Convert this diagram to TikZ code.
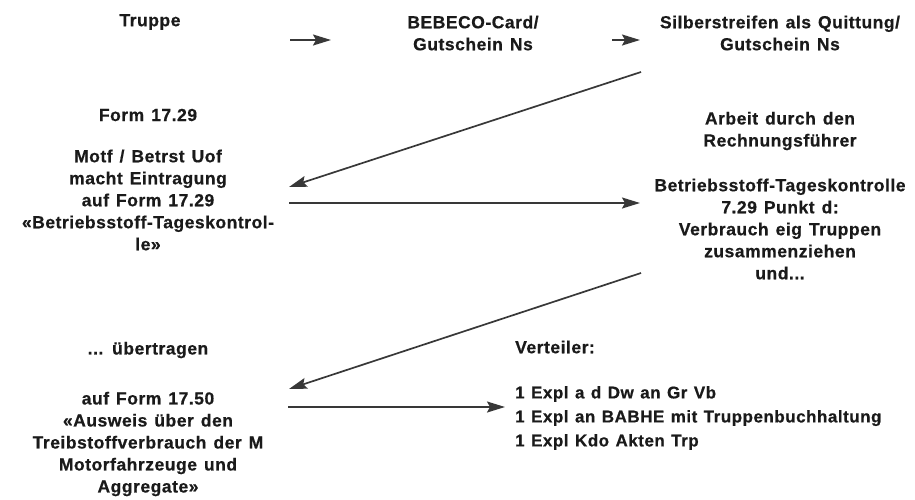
\documentclass[tikz,border=0pt]{standalone}
\usepackage{fontspec}
\setmainfont{Liberation Sans}[LetterSpace=3,BoldFeatures={FakeBold=0.6}]
\usetikzlibrary{arrows.meta}
\definecolor{ink}{HTML}{1A1A1A}
\definecolor{wire}{HTML}{383838}
\newcommand{\lblfont}{\fontsize{17.5}{22}\selectfont\bfseries\spaceskip=0.4em\relax}
\newcommand{\listfont}{\fontsize{17}{24}\selectfont\bfseries\spaceskip=0.38em\relax}
\tikzset{
  lbl/.style={text=ink, font=\lblfont, align=center, inner sep=0pt},
  lbll/.style={lbl, align=left},
  flow/.style={draw=wire, line width=1.7pt, -{Stealth[length=18pt,width=11pt,inset=3pt]}},
}
\begin{document}
\begin{tikzpicture}[x=1pt,y=-1pt]
\useasboundingbox (0,0) rectangle (915,499);
% row 1
\node[lbl] (truppe) at (150,22) {Truppe};
\node[lbl] (bebeco) at (473,33) {BEBECO-Card/\\Gutschein Ns};
\node[lbl] (silber) at (780,33) {Silberstreifen als Quittung/\\Gutschein Ns};
% row 2
\node[lbl] (form1) at (148,115) {Form 17.29};
\node[lbl] (motf) at (148,200) {Motf / Betrst Uof\\macht Eintragung\\auf Form 17.29\\«Betriebsstoff-Tageskontrol-\\le»};
\node[lbl] (arbeit) at (780,131) {Arbeit durch den\\Rechnungsführer};
\node[lbl] (betr) at (780,229) {Betriebsstoff-Tageskontrolle\\7.29 Punkt d:\\Verbrauch eig Truppen\\zusammenziehen\\und...};
% row 3
\node[lbl] (uebertr) at (148,350) {... übertragen};
\node[lbl] (aufform) at (148,444) {auf Form 17.50\\«Ausweis über den\\Treibstoffverbrauch der M\\Motorfahrzeuge und\\Aggregate»};
\node[lbll, anchor=west] (vert) at (515,347) {Verteiler:};
\node[lbll, anchor=west, font=\listfont] (liste) at (515,418) {1 Expl a d Dw an Gr Vb\\1 Expl an BABHE mit Truppenbuchhaltung\\1 Expl Kdo Akten Trp};
% connector ends
\coordinate (a1s) at (290,40);  \coordinate (a1e) at (331,40);
\coordinate (a2s) at (612,40);  \coordinate (a2e) at (640,40);
\coordinate (d1s) at (641,72);  \coordinate (d1e) at (289,187);
\coordinate (h1s) at (289,203); \coordinate (h1e) at (640,203);
\coordinate (d2s) at (641,273); \coordinate (d2e) at (289,389);
\coordinate (h2s) at (288,407); \coordinate (h2e) at (505,407);
\draw[flow] (a1s) -- (a1e);
\draw[flow] (a2s) -- (a2e);
\draw[flow] (d1s) -- (d1e);
\draw[flow] (h1s) -- (h1e);
\draw[flow] (d2s) -- (d2e);
\draw[flow] (h2s) -- (h2e);
\end{tikzpicture}
\end{document}
